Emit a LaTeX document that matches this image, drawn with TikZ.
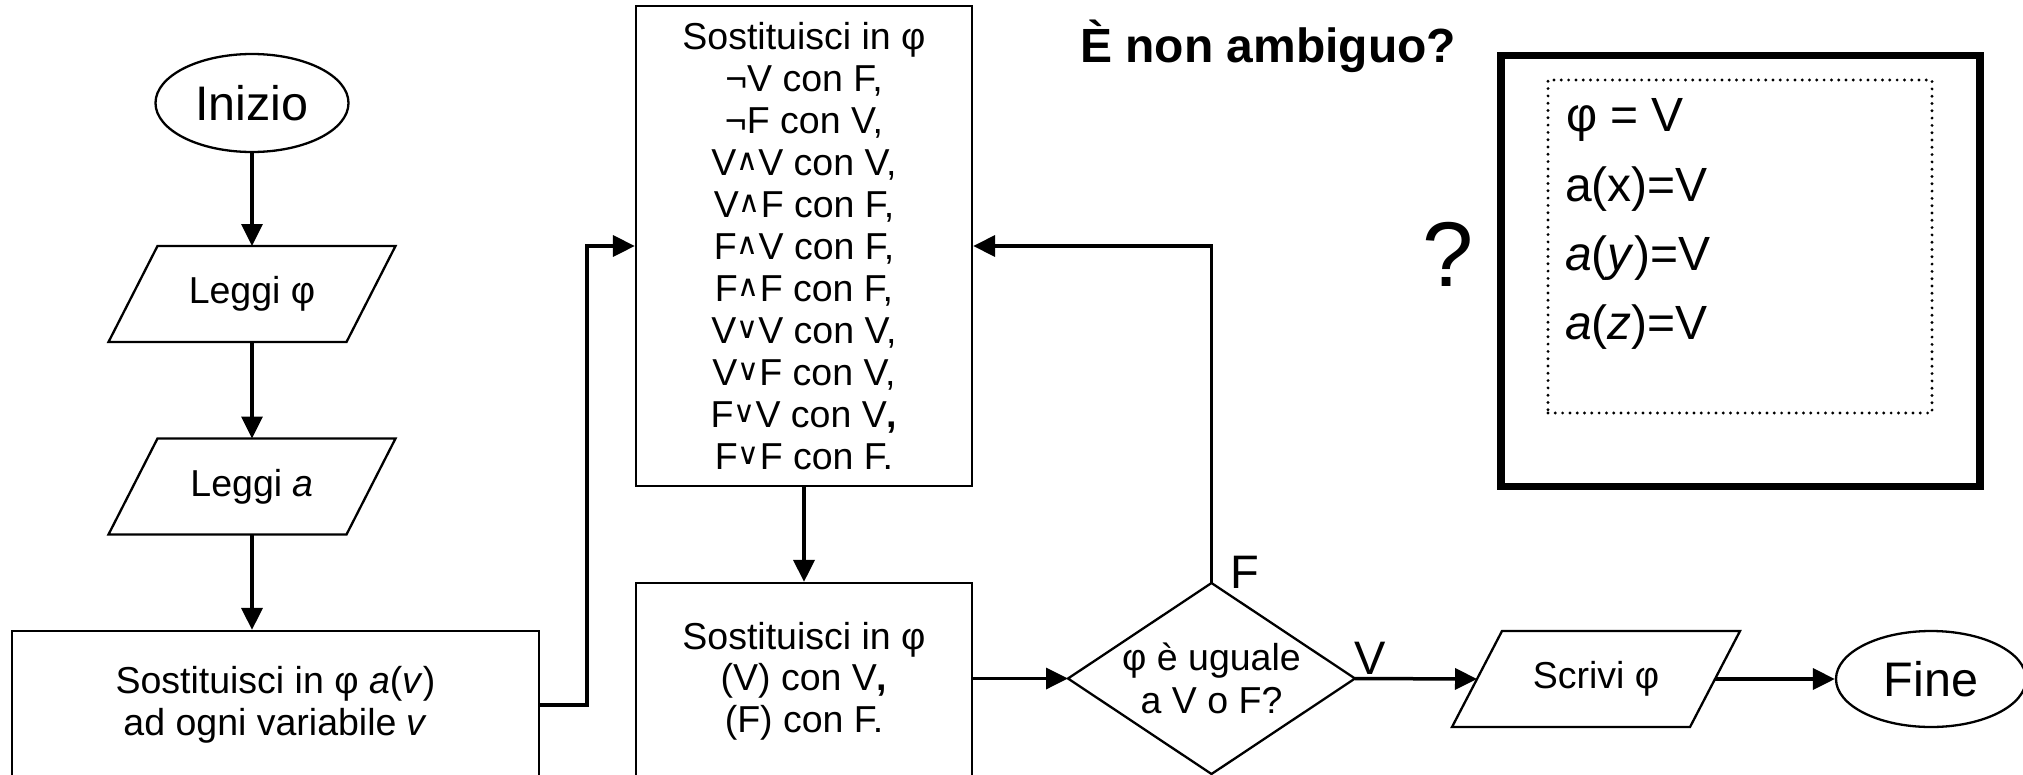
\documentclass[tikz,border=0pt]{standalone}
\usepackage{fontspec}
\setmainfont{Liberation Sans}
\newfontfamily\dejavu{DejaVu Sans}
\usetikzlibrary{arrows.meta,shapes.geometric,calc}
\newcommand\opand{\raisebox{5pt}{\dejavu\fontsize{30}{30}\selectfont ∧}}
\newcommand\opor{\raisebox{5pt}{\dejavu\fontsize{30}{30}\selectfont ∨}}
\tikzset{
 box/.style={draw, line width=2.3pt, rectangle, inner sep=0pt, align=center, font=\fontsize{37.5}{41.5}\selectfont},
 para/.style={rectangle, inner sep=0pt, outer sep=0pt, minimum width=238pt, minimum height=96pt, font=\fontsize{37.5}{41.5}\selectfont},
 paraline/.style={line width=2.3pt, line join=miter},
 term/.style={draw, ellipse, line width=2.3pt, inner sep=0pt, font=\fontsize{48.5}{48.5}\selectfont},
 arr/.style={line width=3.5pt, -{Triangle[length=22pt,width=21pt]}},
 lbl/.style={font=\fontsize{47}{47}\selectfont, inner sep=0pt},
 info/.style={anchor=base west, font=\fontsize{48}{48}\selectfont, inner sep=0pt},
}
\begin{document}
\begin{tikzpicture}[x=1pt,y=-1pt]
\useasboundingbox (0,0) rectangle (2023,774);
\clip (0,0) rectangle (2023,774);

% left column
\node[term, minimum width=193pt, minimum height=98pt] (start) at (252,103) {Inizio};
\node[para] (rphi) at (252,294) {Leggi φ};
\draw[paraline] ([xshift=24.5pt]rphi.north west) -- ([xshift=24.5pt]rphi.north east) -- ([xshift=-24.5pt]rphi.south east) -- ([xshift=-24.5pt]rphi.south west) -- cycle;
\node[para] (ra) at (252,486.5) {Leggi \textit{a}};
\draw[paraline] ([xshift=24.5pt]ra.north west) -- ([xshift=24.5pt]ra.north east) -- ([xshift=-24.5pt]ra.south east) -- ([xshift=-24.5pt]ra.south west) -- cycle;
\node[box, minimum width=527pt, minimum height=148pt] (subst) at (275.5,705) {Sostituisci in φ \textit{a}(\textit{v})\\ ad ogni variabile \textit{v}};

% rules box
\node[box, minimum width=336pt, minimum height=480pt, font=\fontsize{37.5}{42}\selectfont] (rules) at (804,246) {Sostituisci in φ\\
¬V con F,\\
¬F con V,\\
V\opand V con V,\\
V\opand F con F,\\
F\opand V con F,\\
F\opand F con F,\\
V\opor V con V,\\
V\opor F con V,\\
F\opor V con V\textbf{,}\\
F\opor F con F.};

\node[box, minimum width=336pt, minimum height=196pt] (paren) at (804,681) {Sostituisci in φ\\(V) con V\textbf{,}\\(F) con F.};

% decision
\node[rectangle, inner sep=0pt, outer sep=0pt, minimum width=287pt, minimum height=191pt, align=center, font=\fontsize{37.5}{43}\selectfont] (test) at (1211.5,678.5) {φ è uguale\\ a V o F?};
\draw[line width=2.3pt, line join=miter] (test.north) -- (test.east) -- (test.south) -- (test.west) -- cycle;

\node[para] (out) at (1596,679) {Scrivi φ};
\draw[paraline] ([xshift=25pt]out.north west) -- ([xshift=25pt]out.north east) -- ([xshift=-25pt]out.south east) -- ([xshift=-25pt]out.south west) -- cycle;
\node[term, minimum width=190pt, minimum height=96pt] (end) at (1931,679) {Fine};

\node[lbl] (lf) at (1245,572) {F};
\node[lbl] (lv) at (1370,658) {V};

% connectors
\coordinate (bend1) at (587,246);
\draw[arr] (start.south) -- (rphi.north);
\draw[arr] (rphi.south) -- (ra.north);
\draw[arr] (ra.south) -- (ra.south |- subst.north);
\draw[arr] (subst.east) -| (bend1) -- (rules.west);
\draw[arr] (rules.south) -- (paren.north);
\draw[arr] (paren.east |- test.west) -- (test.west);
\draw[arr] (test.north) |- (rules.east);
\draw[arr] (test.east) -- (out.west);
\draw[arr] (out.east) -- (end.west);

% right part
\node[anchor=base, font=\bfseries\fontsize{48}{48}\selectfont, inner sep=0pt] (title) at (1268,62) {È non ambiguo?};
\node[anchor=base, font=\fontsize{92}{92}\selectfont, inner sep=0pt] (q) at (1448,286) {?};
\node[draw, line width=7.5pt, minimum width=479pt, minimum height=431pt, inner sep=0pt] (frame) at (1740.5,271) {};
\node[draw, line width=3.2pt, dash pattern=on 0pt off 7.3pt, line cap=round, minimum width=384pt, minimum height=333pt, inner sep=0pt] (inner) at (1740,246.5) {};
\node[info] (t1) at (1566,131.5) {φ = V};
\node[info] (t2) at (1565,201.5) {a(x)=V};
\node[info] (t3) at (1565,270.5) {\textit{a}(\textit{y})=V};
\node[info] (t4) at (1565,339.5) {\textit{a}(\textit{z})=V};
\end{tikzpicture}
\end{document}
